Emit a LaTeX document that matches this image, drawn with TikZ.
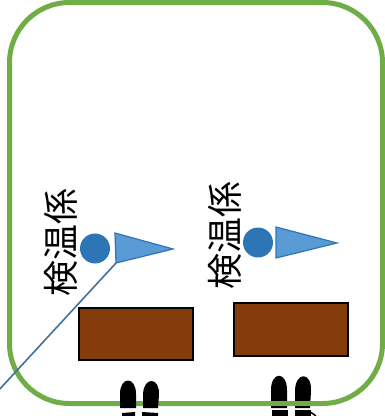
\documentclass[tikz,border=0pt]{standalone}
\usepackage{fontspec}
\newfontfamily\cjk{Noto Sans CJK JP}
\definecolor{frame}{HTML}{70AD47}
\definecolor{dotblue}{HTML}{2E75B6}
\definecolor{flagblue}{HTML}{5B9BD5}
\definecolor{brick}{HTML}{843C0C}
\definecolor{lineblue}{HTML}{41719C}
\begin{document}
\begin{tikzpicture}[x=1pt,y=-1pt,
  lbl/.style={font=\cjk\fontsize{36}{36}\selectfont, rotate=90, inner sep=0pt},
  dot/.style={circle, fill=dotblue, minimum size=30pt, inner sep=0pt},
  flag/.style={fill=flagblue, draw=dotblue, line width=1.2pt, line join=miter},
  desk/.style={fill=brick, draw=black, line width=2pt},
  foot/.style={fill=black}]
\useasboundingbox (0,0) rectangle (385,416);
\fill[white] (0,0) rectangle (385,416);
% left feet (over frame)
\draw[frame, line width=5pt, rounded corners=60pt] (9.5,2.5) rectangle (382.5,403.5);
\fill[foot] (120,408) -- (120,394) .. controls (120,376) and (136,376) .. (136,394) -- (136,408) -- cycle;
\fill[foot] (143,408) -- (143,394) .. controls (144,376) and (160,377) .. (159,395) -- (158,408) -- cycle;
\fill[foot] (122,413) -- (135,412) -- (135,416) -- (122,416) -- cycle;
\fill[foot] (142,412) -- (158,413) -- (158,416) -- (142,416) -- cycle;
% right feet (under frame)
\fill[foot] (271,408) -- (271,390) .. controls (271,371) and (287,371) .. (287,390) -- (287,408) -- cycle;
\fill[foot] (295,408) -- (295,390) .. controls (296,371) and (312,372) .. (311,391) -- (310,408) -- cycle;
\fill[foot] (272,410) -- (288,410) -- (288,416) -- (272,416) -- cycle;
\fill[foot] (295,410) -- (311,410) -- (311,416) -- (295,416) -- cycle;
\draw[foot, draw=black, line width=1.5pt] (309,411) -- (316,416);
\draw[frame, line width=5pt] (262,403.5) -- (322,403.5);
% left group
\node[lbl] (t1) at (61,242) {検温係};
\node[dot] (d1) at (95,248.5) {};
\draw[flag] (115,233) coordinate (f1a) -- (173,249) coordinate (f1tip) -- (116,263) coordinate (f1b) -- cycle;
\node[desk, minimum width=114pt, minimum height=52pt, inner sep=0pt] (b1) at (135.5,333.5) {};
% right group
\node[lbl] (t2) at (224.5,235) {検温係};
\node[dot] (d2) at (258,242.5) {};
\draw[flag] (276,227) coordinate (f2a) -- (337,243) coordinate (f2tip) -- (276,258) coordinate (f2b) -- cycle;
\node[desk, minimum width=114pt, minimum height=53pt, inner sep=0pt] (b2) at (291,329.5) {};
% pole line
\coordinate (pend) at (-2,391);
\draw[lineblue, line width=1.6pt] (f1b) -- (pend);
\end{tikzpicture}
\end{document}
